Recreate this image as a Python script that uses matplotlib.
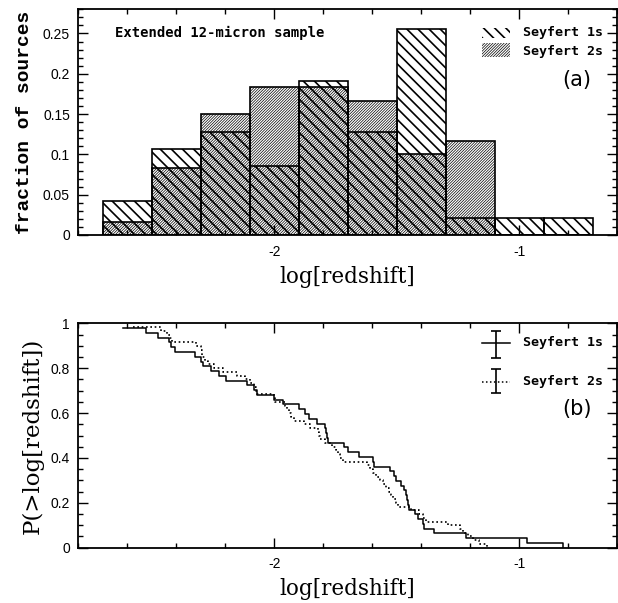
import matplotlib
matplotlib.use('Agg')
import matplotlib.pyplot as plt
import numpy as np
from matplotlib.patches import Rectangle
from matplotlib.ticker import MultipleLocator, FixedLocator

# ---------------- data ----------------
bin_edges = [-2.7, -2.5, -2.3, -2.1, -1.9, -1.7, -1.5, -1.3, -1.1, -0.9, -0.7]
sy1_frac = [0.0426, 0.1064, 0.1277, 0.0851, 0.1915, 0.1277, 0.2553, 0.0213, 0.0213, 0.0213]
sy2_frac = [0.0167, 0.0833, 0.1500, 0.1833, 0.1833, 0.1667, 0.1000, 0.1167, 0.0, 0.0]

sy1_logz = [-2.618, -2.522, -2.475, -2.430, -2.420, -2.407, -2.322, -2.298, -2.292,
            -2.257, -2.227, -2.196, -2.110, -2.083, -2.069, -1.999, -1.965, -1.897,
            -1.876, -1.856, -1.825, -1.791, -1.788, -1.784, -1.781, -1.716, -1.697,
            -1.652, -1.597, -1.591, -1.529, -1.510, -1.502, -1.482, -1.468, -1.461,
            -1.457, -1.454, -1.448, -1.427, -1.411, -1.393, -1.387, -1.346, -1.216,
            -0.967, -0.819]
sy2_logz = [-2.577, -2.461, -2.437, -2.427, -2.418, -2.318, -2.298, -2.296, -2.294,
            -2.284, -2.269, -2.245, -2.208, -2.151, -2.118, -2.098, -2.082, -2.076,
            -2.069, -2.000, -1.996, -1.955, -1.949, -1.941, -1.933, -1.918, -1.878,
            -1.853, -1.820, -1.818, -1.814, -1.792, -1.763, -1.749, -1.739, -1.731,
            -1.718, -1.620, -1.608, -1.596, -1.584, -1.567, -1.555, -1.543, -1.531,
            -1.522, -1.514, -1.502, -1.494, -1.441, -1.408, -1.392, -1.380, -1.290,
            -1.241, -1.229, -1.208, -1.188, -1.163, -1.131]

labels = ['Seyfert 1s', 'Seyfert 2s']

# ---------------- style ----------------
tick_family = ['Liberation Sans', 'DejaVu Sans']
tick_size = 10
serif = ['DejaVu Serif']
bold_mono = ['DejaVu Sans Mono']
hatch_s1 = '\\\\\\'
hatch_s2 = '/' * 12

fig = plt.figure(figsize=(6.18, 6.03), dpi=100)
ax1 = fig.add_axes([0.1267, 0.6103, 0.8717, 0.3743])
ax2 = fig.add_axes([0.1267, 0.0917, 0.8717, 0.3721])

def style_axes(ax):
    for s in ax.spines.values():
        s.set_linewidth(1.3)
    ax.tick_params(which='both', direction='in', top=True, right=True, width=1.0)
    ax.tick_params(which='major', length=7.5)
    ax.tick_params(which='minor', length=3.8)
    ax.tick_params(axis='x', pad=7)
    ax.tick_params(axis='y', pad=6)
    ax.set_xlim(-2.8, -0.6)
    ax.xaxis.set_major_locator(FixedLocator([-2, -1]))
    ax.xaxis.set_minor_locator(MultipleLocator(0.2))
    ax.set_xticklabels(['-2', '-1'])
    for lab in ax.get_xticklabels() + ax.get_yticklabels():
        lab.set_fontfamily(tick_family)
        lab.set_fontsize(tick_size)

# ---------------- panel (a) ----------------
left = bin_edges[:-1]
width = np.diff(bin_edges)
with plt.rc_context({'hatch.linewidth': 0.5}):
    ax1.bar(left, sy2_frac, width=width, align='edge', fill=False, hatch=hatch_s2,
            edgecolor='black', linewidth=1.2, zorder=2)
    ax1.add_patch(Rectangle((0.749, 0.790), 0.052, 0.062, transform=ax1.transAxes,
                            fill=False, hatch=hatch_s2, edgecolor='black', linewidth=0))
with plt.rc_context({'hatch.linewidth': 1.2}):
    ax1.bar(left, sy1_frac, width=width, align='edge', fill=False, hatch=hatch_s1,
            edgecolor='black', linewidth=1.2, zorder=3)
    ax1.add_patch(Rectangle((0.749, 0.871), 0.052, 0.045, transform=ax1.transAxes,
                            fill=False, hatch=hatch_s1, edgecolor='black', linewidth=0))

ax1.set_ylim(0, 0.28)
ax1.set_yticks([0, 0.05, 0.1, 0.15, 0.2, 0.25])
ax1.set_yticklabels(['0', '0.05', '0.1', '0.15', '0.2', '0.25'])
ax1.yaxis.set_minor_locator(MultipleLocator(0.01))
style_axes(ax1)

ax1.set_xlabel('log[redshift]', family=serif, fontsize=15.5, labelpad=5)
ax1.set_ylabel('fraction of sources', family=['Liberation Mono'], fontweight='bold',
               fontsize=14, labelpad=7)
ax1.text(0.068, 0.896, 'Extended 12-micron sample', transform=ax1.transAxes,
         family=bold_mono, fontweight='bold', fontsize=10, va='center', ha='left')
ax1.text(0.825, 0.895, labels[0], transform=ax1.transAxes, family=bold_mono,
         fontweight='bold', fontsize=9.5, va='center', ha='left')
ax1.text(0.825, 0.815, labels[1], transform=ax1.transAxes, family=bold_mono,
         fontweight='bold', fontsize=9.5, va='center', ha='left')
ax1.text(0.926, 0.687, '(a)', transform=ax1.transAxes, family=['DejaVu Sans'],
         fontsize=15, va='center', ha='center')

# ---------------- panel (b) ----------------
for data, ls, lw in [(sy1_logz, '-', 1.1), (sy2_logz, (0, (1, 1.6)), 1.2)]:
    x = np.sort(np.asarray(data))
    n = len(x)
    y = (n - 1 - np.arange(n)) / n
    ax2.plot(x, y, drawstyle='steps-post', color='black', linestyle=ls, linewidth=lw)

ax2.set_ylim(0, 1)
ax2.set_yticks([0, 0.2, 0.4, 0.6, 0.8, 1.0])
ax2.set_yticklabels(['0', '0.2', '0.4', '0.6', '0.8', '1'])
ax2.yaxis.set_minor_locator(MultipleLocator(0.05))
style_axes(ax2)

# legend with error-bar symbols
for yc, ylo, yhi, ls, lab in [(0.914, 0.844, 0.967, '-', labels[0]),
                              (0.740, 0.688, 0.795, (0, (1, 1.6)), labels[1])]:
    ax2.plot([0.749, 0.801], [yc, yc], transform=ax2.transAxes, color='black',
             linestyle=ls, linewidth=1.1)
    ax2.errorbar([0.775], [yc], yerr=[[yc - ylo], [yhi - yc]], transform=ax2.transAxes,
                 fmt='none', ecolor='black', elinewidth=1.2, capsize=3.5, capthick=1.2)
    ax2.text(0.825, yc, lab, transform=ax2.transAxes, family=bold_mono,
             fontweight='bold', fontsize=9.5, va='center', ha='left')
ax2.text(0.925, 0.617, '(b)', transform=ax2.transAxes, family=['DejaVu Sans'],
         fontsize=15, va='center', ha='center')

ax2.set_xlabel('log[redshift]', family=serif, fontsize=15.5, labelpad=5)
ax2.set_ylabel('P(>log[redshift])', family=serif, fontsize=16.5, labelpad=5)

fig.savefig('out.png', dpi=100)
